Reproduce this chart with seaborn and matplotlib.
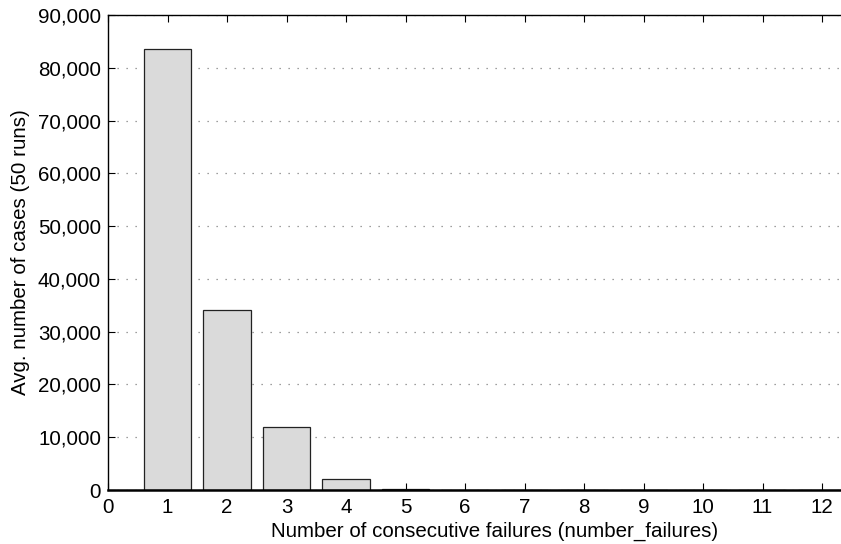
import matplotlib
matplotlib.use("Agg")
import matplotlib.pyplot as plt
import matplotlib.ticker as mticker
import seaborn as sns
import pandas as pd

# Average number of cases per run-length of consecutive failures (50 runs)
failures = [1, 2, 3, 4, 5, 6, 7, 8, 9, 10, 11, 12]
avg_cases = [83500, 34100, 11950, 2050, 280, 20, 0, 0, 0, 0, 0, 0]
x_ticks = list(range(0, 13))
y_ticks = list(range(0, 90001, 10000))

sns.set_theme(style="white")
plt.rcParams["font.family"] = ["Liberation Sans", "DejaVu Sans"]

df = pd.DataFrame({"failures": failures, "cases": avg_cases})

fig = plt.figure(figsize=(8.41, 5.44), dpi=100)
# axes run on past the right edge of the canvas (x range 0..13)
ax = fig.add_axes([108 / 841, 54 / 544, 13 * 59.5 / 841, 475 / 544])

sns.barplot(data=df, x="failures", y="cases", native_scale=True, width=0.8,
            color="#dadada", saturation=1, edgecolor="#222222", linewidth=0.9, ax=ax)

ax.set_xlim(0, 13)
ax.set_ylim(0, 90000)
ax.set_xticks(x_ticks)
ax.set_yticks(y_ticks)
ax.yaxis.set_major_formatter(mticker.FuncFormatter(lambda v, p: f"{int(v):,}"))

ax.yaxis.grid(True, linestyle=(0, (1, 6.2)), color="#808080", linewidth=0.9)
ax.xaxis.grid(False)
ax.set_axisbelow(True)

for side in ["left", "top", "bottom"]:
    ax.spines[side].set_visible(True)
    ax.spines[side].set_color("black")
    ax.spines[side].set_linewidth(1.0)
ax.spines["bottom"].set_linewidth(1.8)
ax.spines["right"].set_visible(False)

fs = 14.8
ax.tick_params(axis="both", which="major", direction="in", length=5, width=0.8,
               color="black", labelsize=fs, labelcolor="black")
ax.tick_params(axis="x", top=True, bottom=True, pad=6)
ax.tick_params(axis="y", left=True, right=False, pad=5)

ax.set_xlabel("Number of consecutive failures (number_failures)", fontsize=fs,
              color="black", labelpad=3)
ax.set_ylabel("Avg. number of cases (50 runs)", fontsize=fs, color="black",
              labelpad=6)

fig.savefig("out.png", dpi=100)
